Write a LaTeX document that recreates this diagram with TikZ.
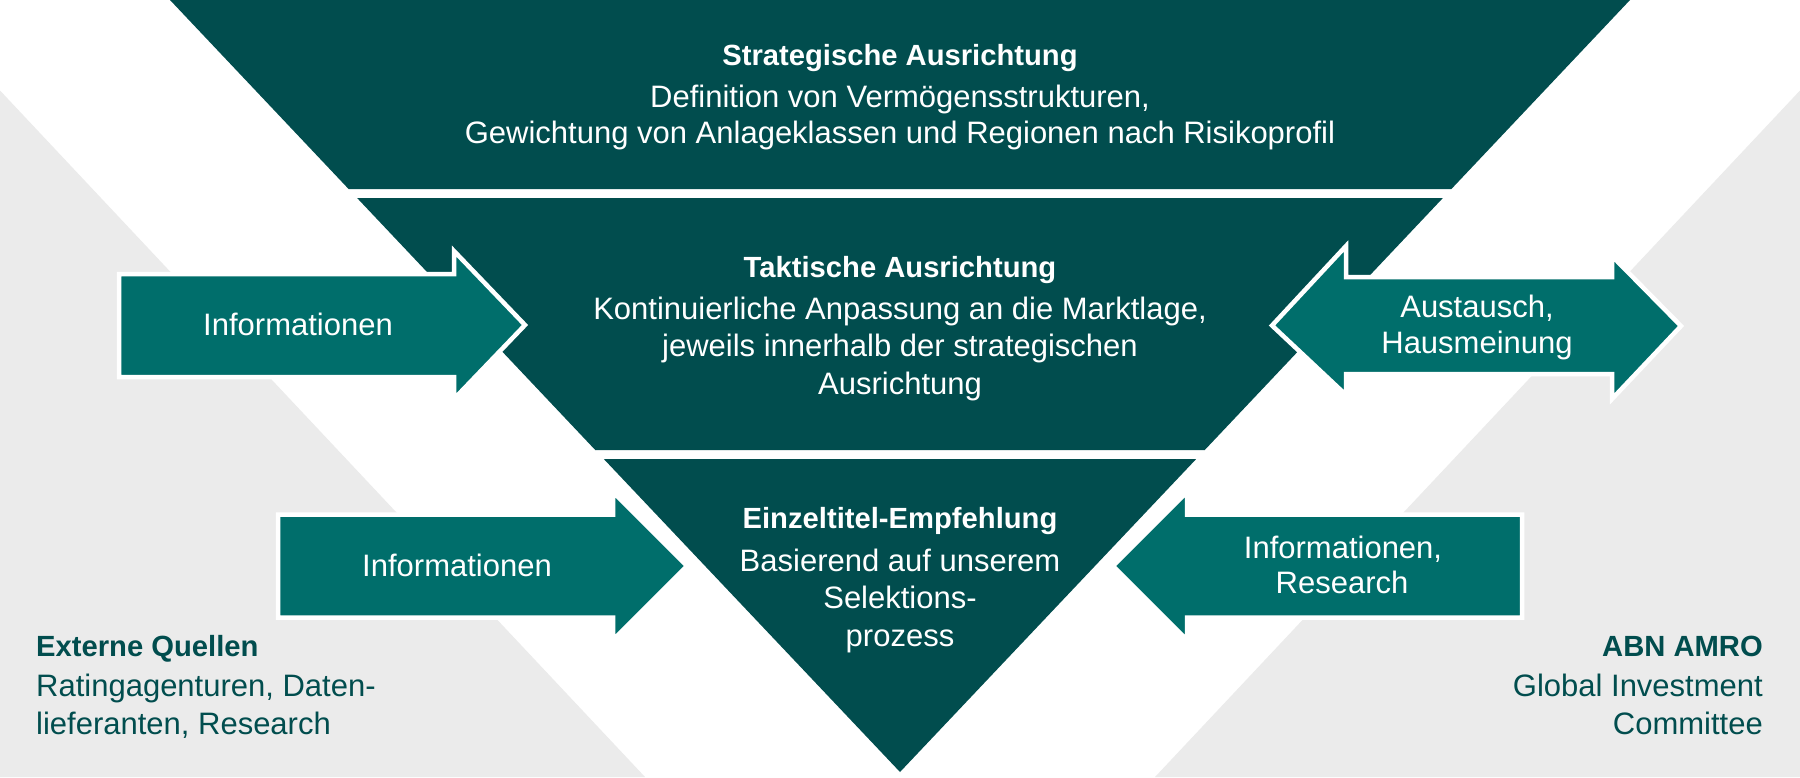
\documentclass[tikz,border=0pt]{standalone}
\usepackage{fontspec}
\setmainfont{Liberation Sans}
\definecolor{darkteal}{HTML}{014D4E}
\definecolor{arrowteal}{HTML}{006E6B}
\definecolor{bggrey}{HTML}{EBEBEB}
\begin{document}
\begin{tikzpicture}[x=1pt,y=-1pt,
  band/.style={fill=darkteal},
  infarrow/.style={fill=arrowteal, draw=white, line width=4.5pt, line join=miter},
  reg/.style={inner sep=0pt, anchor=base, text=white, font=\fontsize{31}{37}\selectfont},
  hd/.style={inner sep=0pt, anchor=base, text=white, font=\fontsize{29.2}{35}\selectfont\bfseries},
  sidereg/.style={inner sep=0pt, text=darkteal, font=\fontsize{31}{37}\selectfont},
  sidehd/.style={inner sep=0pt, text=darkteal, font=\fontsize{29.2}{35}\selectfont\bfseries}]
\useasboundingbox (0,0) rectangle (1800,777);
\fill[white] (0,0) rectangle (1800,777);
% grey background wedges
\fill[bggrey] (0,90.5) -- (645,777) -- (0,777) -- cycle;
\fill[bggrey] (1800,90.5) -- (1155,777) -- (1800,777) -- cycle;
% funnel bands
\fill[band] (170,0) -- (1630,0) -- (1451.4,189) -- (348.6,189) -- cycle;
\fill[band] (357.1,198) -- (1442.9,198) -- (1204.75,450) -- (595.25,450) -- cycle;
\fill[band] (603.8,459) -- (1196.2,459) -- (900,772) -- cycle;
% arrows
\draw[infarrow] (119,274) -- (454,274) -- (454,251) -- (525,325) -- (454,399) -- (454,377) -- (119,377) -- cycle;
\draw[infarrow] (278,514.5) -- (613,514.5) -- (613,492) -- (687,566) -- (613,640) -- (613,617.5) -- (278,617.5) -- cycle;
\draw[infarrow] (1522,514.5) -- (1187,514.5) -- (1187,492) -- (1113,566) -- (1187,640) -- (1187,617.5) -- (1522,617.5) -- cycle;
\draw[infarrow] (1272,325.5) -- (1346,246) -- (1346,277) -- (1612,277) -- (1612,256) -- (1681,326) -- (1612,399) -- (1612,374) -- (1346,374) -- (1346,395) -- cycle;
% top band text
\node[hd]  (s1) at (900,65) {Strategische Ausrichtung};
\node[reg] (s2) at (900,107.3) {Definition von Vermögensstrukturen,};
\node[reg] (s3) at (900,143.3) {Gewichtung von Anlageklassen und Regionen nach Risikoprofil};
% middle band text
\node[hd]  (t1) at (900,277.3) {Taktische Ausrichtung};
\node[reg] (t2) at (900,319.3) {Kontinuierliche Anpassung an die Marktlage,};
\node[reg] (t3) at (900,356) {jeweils innerhalb der strategischen};
\node[reg] (t4) at (900,394) {Ausrichtung};
% bottom band text
\node[hd]  (e1) at (900,528.3) {Einzeltitel-Empfehlung};
\node[reg] (e2) at (900,571.7) {Basierend auf unserem};
\node[reg] (e3) at (900,608.3) {Selektions-};
\node[reg] (e4) at (900,646.7) {prozess};
% arrow labels
\node[reg] (a1) at (298,335) {Informationen};
\node[reg] (a2) at (457,576) {Informationen};
\node[reg] (a3a) at (1343,558.3) {Informationen,};
\node[reg] (a3b) at (1342,593.3) {Research};
\node[reg] (a4a) at (1477,317.3) {Austausch,};
\node[reg] (a4b) at (1477,353.3) {Hausmeinung};
% side texts
\node[sidehd, anchor=base west]  (l1) at (36,656) {Externe Quellen};
\node[sidereg, anchor=base west] (l2) at (36,696.7) {Ratingagenturen, Daten-};
\node[sidereg, anchor=base west] (l3) at (36,734) {lieferanten, Research};
\node[sidehd, anchor=base east]  (r1) at (1763,656.7) {ABN AMRO};
\node[sidereg, anchor=base east] (r2) at (1763,696.7) {Global Investment};
\node[sidereg, anchor=base east] (r3) at (1763,734.3) {Committee};
\end{tikzpicture}
\end{document}
